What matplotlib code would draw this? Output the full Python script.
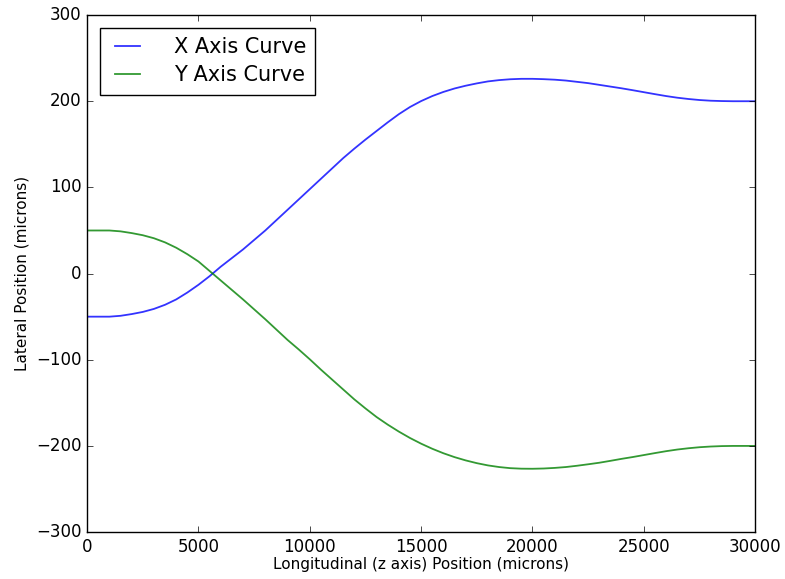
import numpy as np
import matplotlib
matplotlib.use("Agg")
import matplotlib.pyplot as plt

# --- Data ---
z_pos = np.arange(0, 30001, 500)   # longitudinal position (microns)

x_curve = [-50, -50, -50, -49, -47, -44.5, -41, -36.2, -30, -22,
           -13, -3, 8, 18, 28, 39, 50, 62, 74, 86,
           98, 110, 122, 134, 145, 155.5, 165.5, 175.5, 185, 193.3,
           200.2, 206, 210.8, 214.8, 218, 220.7, 223, 224.5, 225.5, 226,
           226, 225.6, 225, 224, 222.5, 221, 219, 217, 215, 212.8,
           210.5, 208.2, 206, 204.1, 202.6, 201.4, 200.6, 200.2, 200, 200,
           200]

y_curve = [50, 50, 50, 49, 47, 44.5, 41, 36.2, 30, 22.5,
           14, 3, -8, -19, -30, -41.5, -53, -65, -77, -88,
           -99.5, -111.5, -123, -134.5, -146, -156.5, -166.5, -175.3, -183.4, -190.8,
           -197.4, -203.3, -208.5, -213, -216.8, -220, -222.6, -224.5, -225.8, -226.4,
           -226.5, -226.2, -225.5, -224.5, -223, -221.3, -219.5, -217.3, -215, -212.9,
           -210.6, -208.3, -206.1, -204.2, -202.7, -201.5, -200.7, -200.2, -200, -200,
           -200]

xticks = [0, 5000, 10000, 15000, 20000, 25000, 30000]
yticks = [-300, -200, -100, 0, 100, 200, 300]


def main():
    plt.style.use("classic")
    plt.rcParams["figure.facecolor"] = "white"
    plt.rcParams["savefig.facecolor"] = "white"

    fig = plt.figure(figsize=(7.85, 5.79), dpi=100)
    ax = fig.add_axes([0.111, 0.081, 0.851, 0.893])

    ax.plot(z_pos, x_curve, color="blue", lw=1.3, label="X Axis Curve", alpha=0.8)
    ax.plot(z_pos, y_curve, color="green", lw=1.3, label="Y Axis Curve", alpha=0.8)

    ax.set_xlim(0, 30000)
    ax.set_ylim(-300, 300)
    ax.set_xticks(xticks)
    ax.set_yticks(yticks)
    ax.tick_params(labelsize=12)

    ax.set_xlabel("Longitudinal (z axis) Position (microns)", fontsize=11, labelpad=1)
    ax.set_ylabel("Lateral Position (microns)", fontsize=11)

    ax.legend(loc="upper left", fontsize=15, handlelength=1.8, handletextpad=1.3,
              borderpad=0.45, labelspacing=0.4, borderaxespad=0.6)

    fig.savefig("out.png", dpi=100)


if __name__ == "__main__":
    main()
